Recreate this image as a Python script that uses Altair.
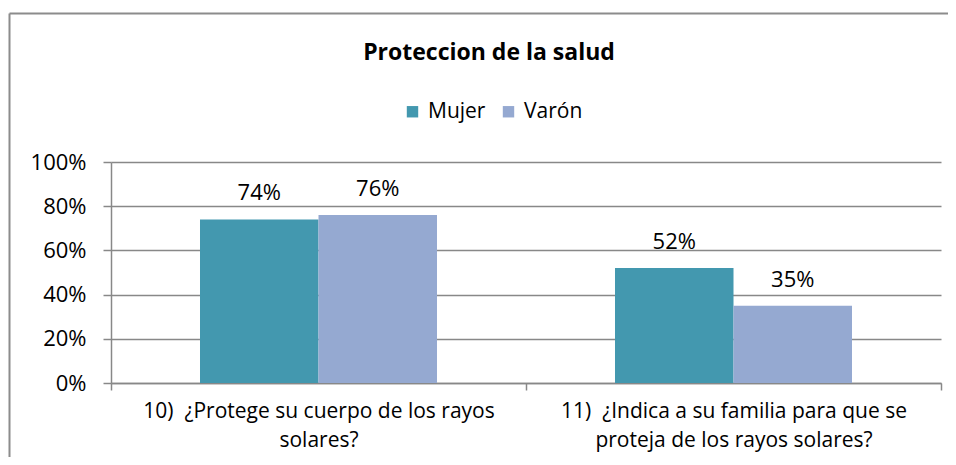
import altair as alt
import pandas as pd

# ---- data ----
categories = [
    "10)\u00a0 ¿Protege su cuerpo de los rayos|solares?",
    "11)\u00a0 ¿Indica a su familia para que se|proteja de los rayos solares?",
]
series = ["Mujer", "Varón"]
mujer = [0.74, 0.52]
varon = [0.76, 0.35]
y_ticks = [0, 0.2, 0.4, 0.6, 0.8, 1.0]
colors = ["#4398AF", "#95A9D1"]
title_text = "Proteccion de la salud"

rows = []
for i, c in enumerate(categories):
    rows.append({"cat": c, "sexo": series[0], "v": mujer[i]})
    rows.append({"cat": c, "sexo": series[1], "v": varon[i]})
df = pd.DataFrame(rows)

GREY = "#888888"
FONT = "Open Sans"

x_enc = alt.X(
    "cat:N",
    sort=categories,
    scale=alt.Scale(paddingInner=0, paddingOuter=0),
    axis=alt.Axis(
        title=None,
        labelAngle=0,
        labelExpr="split(datum.label, '|')",
        tickBand="extent",
        tickSize=7,
        tickColor=GREY,
        domainColor=GREY,
        domainWidth=1.5,
        tickWidth=1.5,
        labelPadding=10,
        labelFontSize=21,
        labelLineHeight=29,
        labelColor="#000000",
        labelLimit=0,
        grid=False,
    ),
)
y_enc = alt.Y(
    "v:Q",
    scale=alt.Scale(domain=[0, 1]),
    axis=alt.Axis(
        title=None,
        values=y_ticks,
        format=".0%",
        tickSize=8,
        tickColor=GREY,
        tickWidth=1.5,
        domainColor=GREY,
        domainWidth=1.5,
        gridColor=GREY,
        gridWidth=1.5,
        labelPadding=17,
        labelFontSize=22,
        labelColor="#000000",
    ),
)
xoff = alt.XOffset("sexo:N", sort=series,
                   scale=alt.Scale(paddingInner=0, paddingOuter=0.751))

bars = alt.Chart(df).mark_bar().encode(
    x=x_enc,
    y=y_enc,
    xOffset=xoff,
    color=alt.Color(
        "sexo:N",
        sort=series,
        scale=alt.Scale(domain=series, range=colors),
        legend=alt.Legend(
            title=None,
            orient="none",
            direction="horizontal",
            legendX=291,
            legendY=-61,
            symbolType="square",
            symbolSize=130,
            symbolStrokeWidth=0,
            labelFontSize=21,
            labelColor="#000000",
            labelOffset=5,
            columnPadding=12,
        ),
    ),
)

labels = alt.Chart(df).mark_text(
    dy=-19, baseline="alphabetic", fontSize=22, color="#000000"
).encode(
    x=alt.X("cat:N", sort=categories),
    y="v:Q",
    xOffset=alt.XOffset("sexo:N", sort=series),
    text=alt.Text("v:Q", format=".0%"),
)

one = alt.Data(values=[{"a": 1}])
title = alt.Chart(one).mark_text(
    text=title_text, fontWeight="bold", fontSize=23, align="center",
    baseline="alphabetic", color="#000000",
).encode(x=alt.value(378), y=alt.value(-102))

border_top = alt.Chart(one).mark_rule(color="#8c8c8c", strokeWidth=2).encode(
    x=alt.value(-101.5), x2=alt.value(900), y=alt.value(-148.5)
)
border_left = alt.Chart(one).mark_rule(color="#8c8c8c", strokeWidth=2).encode(
    x=alt.value(-101.5), y=alt.value(-148.5), y2=alt.value(400)
)

chart = alt.layer(bars, labels, title, border_top, border_left).properties(
    width=830,
    height=221,
    autosize=alt.AutoSizeParams(type="none"),
    padding={"left": 103, "top": 154, "right": 7, "bottom": 74},
).configure(
    font=FONT,
).configure_view(stroke=None)

chart.save("out.html", embed_options={"renderer": "svg", "actions": False})
